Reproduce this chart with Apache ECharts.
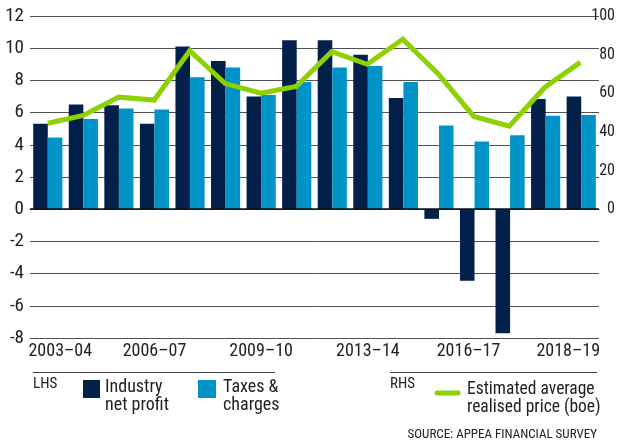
<!DOCTYPE html>
<html><head><meta charset="utf-8">
<script src="https://cdn.jsdelivr.net/npm/echarts@6/dist/echarts.min.js"></script>
<style>html,body{margin:0;padding:0;background:#fff}#c{width:618px;height:441px}</style>
</head><body><div id="c"></div>
<script>
const categories = ['2003–04','2004–05','2005–06','2006–07','2007–08','2008–09','2009–10','2010–11','2011–12','2012–13','2013–14','2014–15','2015–16','2016–17','2017–18','2018–19'];
const tickLabels = ['2003–04','','','2006–07','','','2009–10','','','2013–14','','','2016–17','','','2018–19'];
const netProfit = [5.3, 6.5, 6.45, 5.3, 10.1, 9.2, 7.0, 10.5, 10.5, 9.6, 6.9, -0.6, -4.45, -7.7, 6.85, 7.0];
const taxes = [4.45, 5.6, 6.25, 6.2, 8.2, 8.8, 7.1, 7.9, 8.8, 8.9, 7.9, 5.2, 4.2, 4.6, 5.8, 5.85];
const price = [44.5, 48.5, 58, 56.5, 82, 65, 60, 63.5, 81.5, 75, 88, 70, 48, 43, 63, 76];
const lhsTicks = [-8, 12, 2];
const rhsTicks = [0, 100, 20];

const FONT = '"Roboto Condensed", Roboto, sans-serif';
const NAVY = '#03204b', BLUE = '#0093c8', GREEN = '#8dd100';
const gTop = 16, gH = 322, gL = 30, gR = 19;
const zeroFrac = lhsTicks[1] / (lhsTicks[1] - lhsTicks[0]);

const chart = echarts.init(document.getElementById('c'), null, {renderer: 'canvas'});
chart.setOption({
  animation: false,
  textStyle: {fontFamily: FONT},
  grid: [
    {left: gL, right: gR, top: gTop, height: gH},
    {left: gL, right: gR, top: gTop, height: gH * zeroFrac}
  ],
  xAxis: [
    {type: 'category', gridIndex: 0, data: categories,
     axisTick: {show: false},
     axisLine: {lineStyle: {color: '#333', width: 1}},
     axisLabel: {interval: 0, margin: 4, fontSize: 18, color: '#222', fontFamily: FONT,
       formatter: (v, i) => {
         const t = tickLabels[i];
         if (!t) return '';
         if (i === 0) return '{a|' + t + '}';
         if (i === 12) return '{b|' + t + '}';
         if (i === categories.length - 1) return '{c|' + t + '}';
         return t;
       },
       rich: {
         a: {fontSize: 18, fontFamily: FONT, color: '#222', padding: [0, 0, 0, 25]},
         b: {fontSize: 18, fontFamily: FONT, color: '#222', padding: [0, 12, 0, 0]},
         c: {fontSize: 18, fontFamily: FONT, color: '#222', padding: [0, 26, 0, 0]}
       }}},
    {type: 'category', gridIndex: 1, data: categories, show: false}
  ],
  yAxis: [
    {type: 'value', gridIndex: 0, min: lhsTicks[0], max: lhsTicks[1], interval: lhsTicks[2],
     axisLine: {show: false}, axisTick: {show: false},
     splitLine: {lineStyle: {color: '#505050', width: 1}},
     axisLabel: {fontSize: 19, color: '#222', margin: 6, fontFamily: FONT, padding: [10, 0, 0, 0]}},
    {type: 'value', gridIndex: 1, position: 'right', min: rhsTicks[0], max: rhsTicks[1], interval: rhsTicks[2],
     axisLine: {show: false}, axisTick: {show: false}, splitLine: {show: false},
     axisLabel: {fontSize: 16, color: '#222', margin: 17, align: 'right', fontFamily: FONT, padding: [4, 0, 0, 0]}}
  ],
  series: [
    {type: 'bar', name: 'Industry net profit', data: netProfit, xAxisIndex: 0, yAxisIndex: 0,
     itemStyle: {color: NAVY}, barGap: '0%', barCategoryGap: '18%',
     markLine: {silent: true, symbol: 'none', label: {show: false},
       lineStyle: {color: '#111', width: 1.5, type: 'solid'}, data: [{yAxis: 0}]}},
    {type: 'bar', name: 'Taxes & charges', data: taxes, xAxisIndex: 0, yAxisIndex: 0,
     itemStyle: {color: BLUE}, barGap: '0%', barCategoryGap: '18%'},
    {type: 'line', name: 'Estimated average realised price (boe)', data: price, xAxisIndex: 1, yAxisIndex: 1,
     symbol: 'none', lineStyle: {color: GREEN, width: 5, join: 'miter'}, z: 5}
  ],
  graphic: [
    {type: 'line', shape: {x1: 33, y1: 372.5, x2: 275, y2: 372.5}, style: {stroke: '#444', lineWidth: 1}},
    {type: 'line', shape: {x1: 390, y1: 372.5, x2: 597, y2: 372.5}, style: {stroke: '#444', lineWidth: 1}},
    {type: 'text', left: 33, top: 377, style: {text: 'LHS', font: '15px ' + FONT, fill: '#222'}},
    {type: 'rect', shape: {x: 83, y: 380, width: 17, height: 18}, style: {fill: NAVY}},
    {type: 'text', left: 105, top: 378, style: {text: 'Industry\nnet profit', font: '18px ' + FONT, fill: '#222', lineHeight: 18}},
    {type: 'rect', shape: {x: 198, y: 380, width: 18, height: 18}, style: {fill: BLUE}},
    {type: 'text', left: 223, top: 378, style: {text: 'Taxes &\ncharges', font: '18px ' + FONT, fill: '#222', lineHeight: 18}},
    {type: 'text', left: 390, top: 377, style: {text: 'RHS', font: '15px ' + FONT, fill: '#222'}},
    {type: 'line', shape: {x1: 437, y1: 393, x2: 458, y2: 393}, style: {stroke: GREEN, lineWidth: 5, lineCap: 'round'}},
    {type: 'text', left: 467, top: 381, style: {text: 'Estimated average\nrealised price (boe)', font: '17.5px ' + FONT, fill: '#222', lineHeight: 18}},
    {type: 'text', right: 21, top: 428, style: {text: 'SOURCE: APPEA FINANCIAL SURVEY', font: '13px ' + FONT, fill: '#222', letterSpacing: 1.1}}
  ]
});
</script></body></html>
